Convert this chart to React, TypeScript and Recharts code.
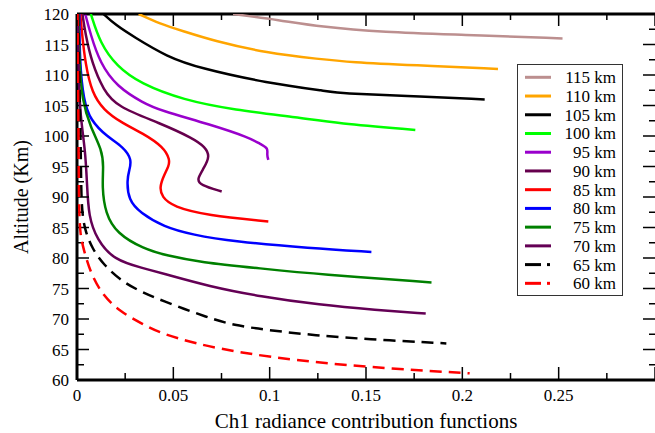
import React from "react";
import { ScatterChart, Scatter, XAxis, YAxis, Label } from "recharts";

type Pt = [number, number];

const km115: Pt[] = [[0.081, 120], [0.105, 119.0], [0.126, 117.9], [0.159, 117.0], [0.2, 116.6], [0.252, 116.0]];
const km110: Pt[] = [[0.032, 120], [0.043, 118.4], [0.055, 117.2], [0.071, 115.6], [0.0985, 113.6], [0.126, 112.6], [0.142, 112.1], [0.175, 111.6], [0.2185, 111.0]];
const km105: Pt[] = [[0.0138, 120], [0.02, 118.2], [0.0293, 116.3], [0.0466, 113.0], [0.0639, 111.1], [0.0984, 108.7], [0.131, 107.3], [0.137, 107.0], [0.17, 106.6], [0.2116, 106.0]];
const km100: Pt[] = [[0.0072, 120], [0.012, 115.2], [0.0207, 111.4], [0.0328, 108.6], [0.0552, 105.9], [0.0811, 104.3], [0.1157, 103.0], [0.1347, 102.1], [0.1756, 101.0]];
const km95: Pt[] = [[0.0043, 120], [0.0069, 116.8], [0.012, 111.9], [0.0207, 108.1], [0.0345, 105.4], [0.0432, 104.2], [0.069, 101.9], [0.0898, 99.7], [0.095, 98.7], [0.0993, 98.0], [0.0985, 97.0], [0.0993, 96.1]];
const km90: Pt[] = [[0.0028, 120], [0.0043, 116.8], [0.0078, 111.9], [0.0138, 107.5], [0.0207, 104.8], [0.0432, 102.1], [0.0604, 99.6], [0.0665, 98.2], [0.069, 96.7], [0.066, 94.8], [0.0622, 92.9], [0.0639, 92.0], [0.0751, 90.9]];
const km85: Pt[] = [[0.0017, 120], [0.0026, 116.8], [0.0043, 111.9], [0.0078, 107.0], [0.0138, 104.3], [0.0224, 102.3], [0.0345, 100.4], [0.0449, 98.2], [0.0483, 96.1], [0.0475, 95.0], [0.0455, 93.8], [0.0428, 91.7], [0.044, 90.0], [0.05, 88.4], [0.0674, 87.0], [0.0993, 86.0]];
const km80: Pt[] = [[0.0012, 120], [0.0014, 112], [0.0034, 105.9], [0.0069, 102.6], [0.0155, 99.9], [0.0241, 98.2], [0.0285, 96.1], [0.0272, 94.5], [0.0259, 92.8], [0.0267, 89.5], [0.0328, 87.4], [0.045, 85.1], [0.06, 83.8], [0.0811, 82.7], [0.121, 81.6], [0.1528, 81.0]];
const km75: Pt[] = [[0.0007, 120], [0.0012, 112], [0.0026, 105.9], [0.0069, 101.5], [0.013, 97.7], [0.0138, 95.0], [0.013, 91.7], [0.0147, 87.3], [0.0207, 84.0], [0.0345, 81.5], [0.0466, 80.4], [0.064, 79.3], [0.095, 78.3], [0.126, 77.3], [0.184, 76.0]];
const km70: Pt[] = [[0.0005, 120], [0.0008, 110], [0.0017, 103.2], [0.0043, 97.7], [0.0052, 92.2], [0.006, 86.8], [0.0104, 83.0], [0.019, 79.7], [0.0345, 78.3], [0.0432, 77.6], [0.069, 75.3], [0.095, 73.7], [0.126, 72.3], [0.155, 71.5], [0.181, 70.9]];
const km65: Pt[] = [[0.0005, 120], [0.0015, 105], [0.002, 97], [0.0022, 90], [0.003, 86.5], [0.0045, 84.3], [0.0078, 81.6], [0.0138, 78.9], [0.0224, 76.4], [0.031, 74.8], [0.0432, 73.1], [0.069, 70.1], [0.0811, 69.0], [0.0984, 68.2], [0.124, 67.3], [0.15, 66.7], [0.1917, 66.0]];
const km60: Pt[] = [[0.0003, 120], [0.0008, 100], [0.001, 88], [0.0017, 84.1], [0.0026, 82.4], [0.0069, 77.5], [0.0138, 73.7], [0.0224, 71.2], [0.0345, 69.1], [0.0432, 67.7], [0.062, 65.9], [0.0863, 64.4], [0.1122, 63.3], [0.15, 62.1], [0.2038, 61.1]];

const seriesNames = ["115 km", "110 km", "105 km", "100 km", "95 km", "90 km", "85 km", "80 km", "75 km", "70 km", "65 km", "60 km"];
const seriesColors = ["#BC8F8F", "#FFA500", "#000000", "#00FF00", "#9900CC", "#66004D", "#FF0000", "#0000FF", "#008000", "#640055", "#000000", "#FF0000"];
const seriesDashed = [false, false, false, false, false, false, false, false, false, false, true, true];
const seriesData = [km115, km110, km105, km100, km95, km90, km85, km80, km75, km70, km65, km60];

const xMajor = [0, 0.05, 0.1, 0.15, 0.2, 0.25];
const xMinor = [0, 0.025, 0.05, 0.075, 0.1, 0.125, 0.15, 0.175, 0.2, 0.225, 0.25, 0.275, 0.3];
const yMajor = [60, 65, 70, 75, 80, 85, 90, 95, 100, 105, 110, 115, 120];
const yMinor = [60, 62.5, 65, 67.5, 70, 72.5, 75, 77.5, 80, 82.5, 85, 87.5, 90, 92.5, 95, 97.5, 100, 102.5, 105, 107.5, 110, 112.5, 115, 117.5, 120];

const SERIF = '"Liberation Serif", "Times New Roman", serif';
const X_DOMAIN: [number, number] = [0, 0.3];
const Y_DOMAIN: [number, number] = [60, 120];
const MINOR = 7;
const EXTRA = 5; // major ticks are MINOR + EXTRA long
const tickLineStyle = { stroke: "#000", strokeWidth: 1.5 };
const frameLine = { stroke: "#000", strokeWidth: 3 };

const toXY = (pts: Pt[]) => pts.map(([v, a]) => ({ x: v, y: a }));
const allPoints = seriesData.flatMap(toXY);

const noDot = () => <g />;

const isMajor = (v: number, step: number) => Math.abs(v / step - Math.round(v / step)) < 1e-6;

// the tick "label" slot of a mirrored axis sits at the inner end of the minor tick;
// for major values we extend the tick from there
const majorTick = (step: number, dx: number, dy: number) => (props: any) => {
  const { x, y, payload } = props;
  if (!isMajor(payload.value, step)) return <g />;
  return <line x1={x} y1={y} x2={x + dx} y2={y + dy} stroke="#000" strokeWidth={1.5} />;
};

function YTitle(props: any) {
  const vb = props.viewBox || { y: 0, height: 0 };
  return (
    <text
      transform={`translate(28, ${vb.y + vb.height / 2}) rotate(-90)`}
      textAnchor="middle"
      fontFamily={SERIF}
      fontSize={20}
      fill="#000"
    >
      Altitude (Km)
    </text>
  );
}

function LegendBox() {
  return (
    <svg
      width={107}
      height={233}
      style={{ position: "absolute", left: 517, top: 64 }}
    >
      <rect x={0.5} y={0.5} width={105} height={231} fill="#fff" stroke="#333" strokeWidth={1} />
      {seriesNames.map((name, i) => {
        const cy = 13.3 + i * 18.73;
        const color = seriesColors[i];
        return (
          <g key={name}>
            {seriesDashed[i] ? (
              <>
                <line x1={8} x2={24} y1={cy} y2={cy} stroke={color} strokeWidth={3} />
                <line x1={30} x2={33} y1={cy} y2={cy} stroke={color} strokeWidth={3} />
              </>
            ) : (
              <line x1={8} x2={34} y1={cy} y2={cy} stroke={color} strokeWidth={3} />
            )}
            <text x={99} y={cy + 6} textAnchor="end" fontFamily={SERIF} fontSize={17} fill="#000">
              {name}
            </text>
          </g>
        );
      })}
    </svg>
  );
}

export default function App() {
  return (
    <div style={{ position: "absolute", left: 0, top: 0, width: 655, height: 433, background: "#fff" }}>
      <ScatterChart width={655} height={433} data={allPoints} margin={{ top: 14, right: 0, bottom: 0, left: 0 }}>
        {/* inward tick marks on all four sides, plus the top frame line */}
        <XAxis xAxisId="bottomTicks" type="number" dataKey="x" domain={X_DOMAIN} allowDataOverflow ticks={xMinor} interval={0}
          orientation="bottom" mirror height={20} axisLine={false} tickSize={MINOR} tickMargin={0}
          tickLine={tickLineStyle} tick={majorTick(0.05, 0, -EXTRA - 1)} />
        <XAxis xAxisId="topTicks" type="number" dataKey="x" domain={X_DOMAIN} allowDataOverflow ticks={xMinor} interval={0}
          orientation="top" mirror height={20} axisLine={frameLine} tickSize={MINOR - 1} tickMargin={0}
          tickLine={tickLineStyle} tick={majorTick(0.05, 0, EXTRA + 1)} />
        <YAxis yAxisId="leftTicks" type="number" domain={Y_DOMAIN} allowDataOverflow ticks={yMinor} interval={0}
          orientation="left" mirror width={1} axisLine={false} tickSize={MINOR} tickMargin={0}
          tickLine={tickLineStyle} tick={majorTick(5, EXTRA, 0)} />
        <YAxis yAxisId="rightTicks" type="number" domain={Y_DOMAIN} allowDataOverflow ticks={yMinor} interval={0}
          orientation="right" mirror width={1} axisLine={false} tickSize={MINOR - 1} tickMargin={0}
          tickLine={tickLineStyle} tick={majorTick(5, -EXTRA - 1, 0)} />

        <XAxis
          type="number"
          dataKey="x"
          domain={X_DOMAIN}
          allowDataOverflow
          ticks={xMajor}
          interval={0}
          height={53}
          tickLine={false}
          tickSize={0}
          tickMargin={9}
          axisLine={frameLine}
          tick={{ fontSize: 17, fill: "#000", fontFamily: SERIF }}
        >
          <Label
            value="Ch1 radiance contribution functions"
            position="insideBottom"
            offset={5}
            style={{ fontSize: 21, fill: "#000", fontFamily: SERIF }}
          />
        </XAxis>
        <YAxis
          type="number"
          dataKey="y"
          domain={Y_DOMAIN}
          allowDataOverflow
          ticks={yMajor}
          interval={0}
          width={77}
          tickLine={false}
          tickSize={0}
          tickMargin={8}
          axisLine={frameLine}
          tick={{ fontSize: 17, fill: "#000", fontFamily: SERIF }}
        >
          <Label content={YTitle} />
        </YAxis>

        {/* invisible series that give the tick-only x axes a data source */}
        <Scatter xAxisId="bottomTicks" data={toXY(km115)} shape={noDot} legendType="none" isAnimationActive={false} />
        <Scatter xAxisId="topTicks" data={toXY(km115)} shape={noDot} legendType="none" isAnimationActive={false} />

        {seriesData.map((pts, i) => (
          <Scatter
            key={seriesNames[i]}
            name={seriesNames[i]}
            data={toXY(pts)}
            fill={seriesColors[i]}
            line={{
              stroke: seriesColors[i],
              strokeWidth: 2.5,
              strokeDasharray: seriesDashed[i] ? "12 7" : undefined,
            }}
            lineJointType="basis"
            shape={noDot}
            isAnimationActive={false}
          />
        ))}
      </ScatterChart>
      <LegendBox />
    </div>
  );
}
